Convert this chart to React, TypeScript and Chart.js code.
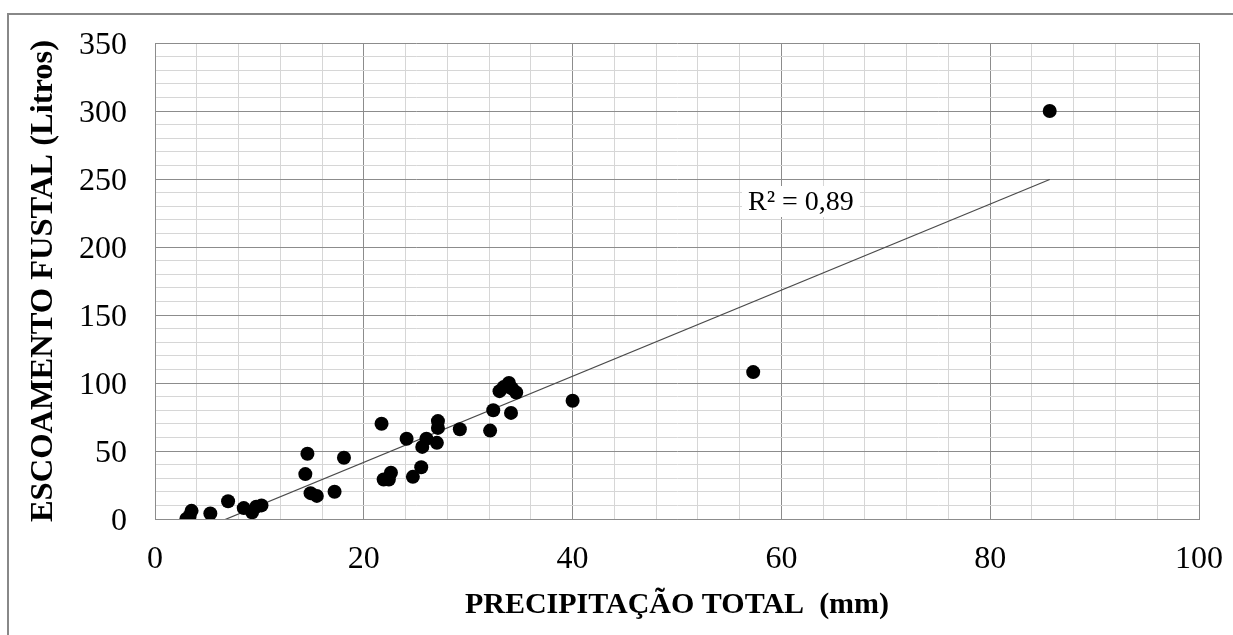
import React, { useEffect, useRef } from 'react';
import { Chart, registerables } from 'chart.js';

Chart.register(...registerables);

// Precipitação total (mm)
const precipitacao = [
  3.0, 3.3, 3.5, 5.3, 7.0, 8.5, 9.3, 9.7, 10.2,
  14.4, 14.6, 14.9, 15.5, 17.2, 18.1,
  21.7, 21.9, 22.4, 22.6, 24.1, 24.7, 25.5, 25.6, 26.0,
  27.0, 27.1, 27.1, 29.2, 32.1, 32.4,
  33.0, 33.4, 33.9, 34.2, 34.1, 34.6,
  40.0, 57.3, 85.7,
];
// Escoamento fustal (Litros)
const escoamento = [
  0, 2, 6, 4, 13, 8, 5, 9, 10,
  33, 48, 19, 17, 20, 45,
  70, 29, 29, 34, 59, 31, 38, 53, 59,
  56, 72, 67, 66, 65, 80,
  94, 97, 100, 96, 78, 93,
  87, 108, 300,
];

const xTickLabels = [0, 20, 40, 60, 80, 100];
const yTickLabels = [0, 50, 100, 150, 200, 250, 300, 350];
const r2Label = 'R² = 0,89';
const xTitle = 'PRECIPITAÇÃO TOTAL  (mm)';
const yTitle = 'ESCOAMENTO FUSTAL (Litros)';

const SERIF = "'Liberation Serif', 'Times New Roman', 'DejaVu Serif', serif";

function linearFit(xs: number[], ys: number[]) {
  const n = xs.length;
  const mx = xs.reduce((a, b) => a + b, 0) / n;
  const my = ys.reduce((a, b) => a + b, 0) / n;
  let sxy = 0;
  let sxx = 0;
  for (let i = 0; i < n; i++) {
    sxy += (xs[i] - mx) * (ys[i] - my);
    sxx += (xs[i] - mx) * (xs[i] - mx);
  }
  const slope = sxy / sxx;
  return { slope, intercept: my - slope * mx };
}

const r2Plugin = {
  id: 'r2Label',
  afterDatasetsDraw(chart: any) {
    const { ctx, chartArea } = chart;
    ctx.save();
    ctx.font = `28px ${SERIF}`;
    const tx = chartArea.left + 593;
    const ty = chartArea.top + 167;
    const w = ctx.measureText(r2Label).width;
    ctx.fillStyle = '#ffffff';
    ctx.fillRect(tx - 6, ty - 24, w + 12, 31);
    ctx.fillStyle = '#000000';
    ctx.textBaseline = 'alphabetic';
    ctx.fillText(r2Label, tx, ty);
    ctx.restore();
  },
};

const clearScalePadding = (scale: any) => {
  scale.paddingLeft = 0;
  scale.paddingRight = 0;
  scale.paddingTop = 0;
  scale.paddingBottom = 0;
};

export default function App() {
  const canvasRef = useRef<HTMLCanvasElement | null>(null);

  useEffect(() => {
    if (!canvasRef.current) return;
    const fit = linearFit(precipitacao, escoamento);
    const minX = Math.min(...precipitacao);
    const maxX = Math.max(...precipitacao);
    const trend = [
      { x: minX, y: fit.intercept + fit.slope * minX },
      { x: maxX, y: fit.intercept + fit.slope * maxX },
    ];
    const points = precipitacao.map((x, i) => ({ x, y: escoamento[i] }));

    const chart = new Chart(canvasRef.current, {
      type: 'scatter',
      data: {
        datasets: [
          {
            type: 'scatter',
            data: points,
            backgroundColor: '#000000',
            borderColor: '#000000',
            borderWidth: 0,
            pointRadius: 7,
            pointHoverRadius: 7,
          },
          {
            type: 'line',
            data: trend,
            borderColor: '#4a4a4a',
            borderWidth: 1.2,
            pointRadius: 0,
            fill: false,
          } as any,
        ],
      },
      options: {
        animation: false,
        responsive: false,
        events: [],
        layout: { padding: { left: 0, top: 43, right: 34, bottom: 0 } },
        plugins: {
          legend: { display: false },
          title: { display: false },
          tooltip: { enabled: false },
        },
        scales: {
          x: {
            type: 'linear',
            min: 0,
            max: 100,
            afterFit: (scale: any) => {
              scale.height = 116;
              clearScalePadding(scale);
            },
            ticks: {
              stepSize: 4,
              autoSkip: false,
              maxRotation: 0,
              padding: 21,
              color: '#000000',
              font: { family: SERIF, size: 32 },
              callback: (v: any) => (xTickLabels.includes(Number(v)) ? String(v) : ''),
            },
            grid: {
              drawTicks: false,
              lineWidth: 1,
              color: (c: any) =>
                c.tick && xTickLabels.includes(Number(c.tick.value)) ? '#8c8c8c' : '#d6d6d6',
            },
            border: { display: true, color: '#8c8c8c', width: 1 },
            title: {
              display: true,
              text: xTitle,
              color: '#000000',
              font: { family: SERIF, size: 30, weight: 'bold' },
              padding: { top: 0, bottom: 12 },
            },
          },
          y: {
            type: 'linear',
            min: 0,
            max: 350,
            afterFit: (scale: any) => {
              scale.width = 155;
              clearScalePadding(scale);
            },
            ticks: {
              stepSize: 10,
              autoSkip: false,
              padding: 28,
              labelOffset: 3,
              color: '#000000',
              font: { family: SERIF, size: 32 },
              callback: (v: any) => (yTickLabels.includes(Number(v)) ? String(v) : ''),
            },
            grid: {
              drawTicks: false,
              lineWidth: 1,
              color: (c: any) =>
                c.tick && yTickLabels.includes(Number(c.tick.value)) ? '#8c8c8c' : '#d6d6d6',
            },
            border: { display: true, color: '#8c8c8c', width: 1 },
            title: {
              display: true,
              text: yTitle,
              color: '#000000',
              font: { family: SERIF, size: 32.5, weight: 'bold' },
              padding: { top: 24, bottom: 0 },
            },
          },
        },
      },
      plugins: [r2Plugin],
    });

    return () => {
      chart.destroy();
    };
  }, []);

  return (
    <div
      style={{
        position: 'fixed',
        left: 0,
        top: 0,
        width: 1233,
        height: 635,
        background: '#ffffff',
        overflow: 'hidden',
      }}
    >
      <div
        style={{
          position: 'absolute',
          left: 7,
          top: 13,
          width: 1300,
          height: 700,
          borderLeft: '2px solid #888888',
          borderTop: '2px solid #888888',
        }}
      />
      <canvas
        ref={canvasRef}
        width={1233}
        height={635}
        style={{ position: 'absolute', left: 0, top: 0, width: 1233, height: 635 }}
      />
    </div>
  );
}
